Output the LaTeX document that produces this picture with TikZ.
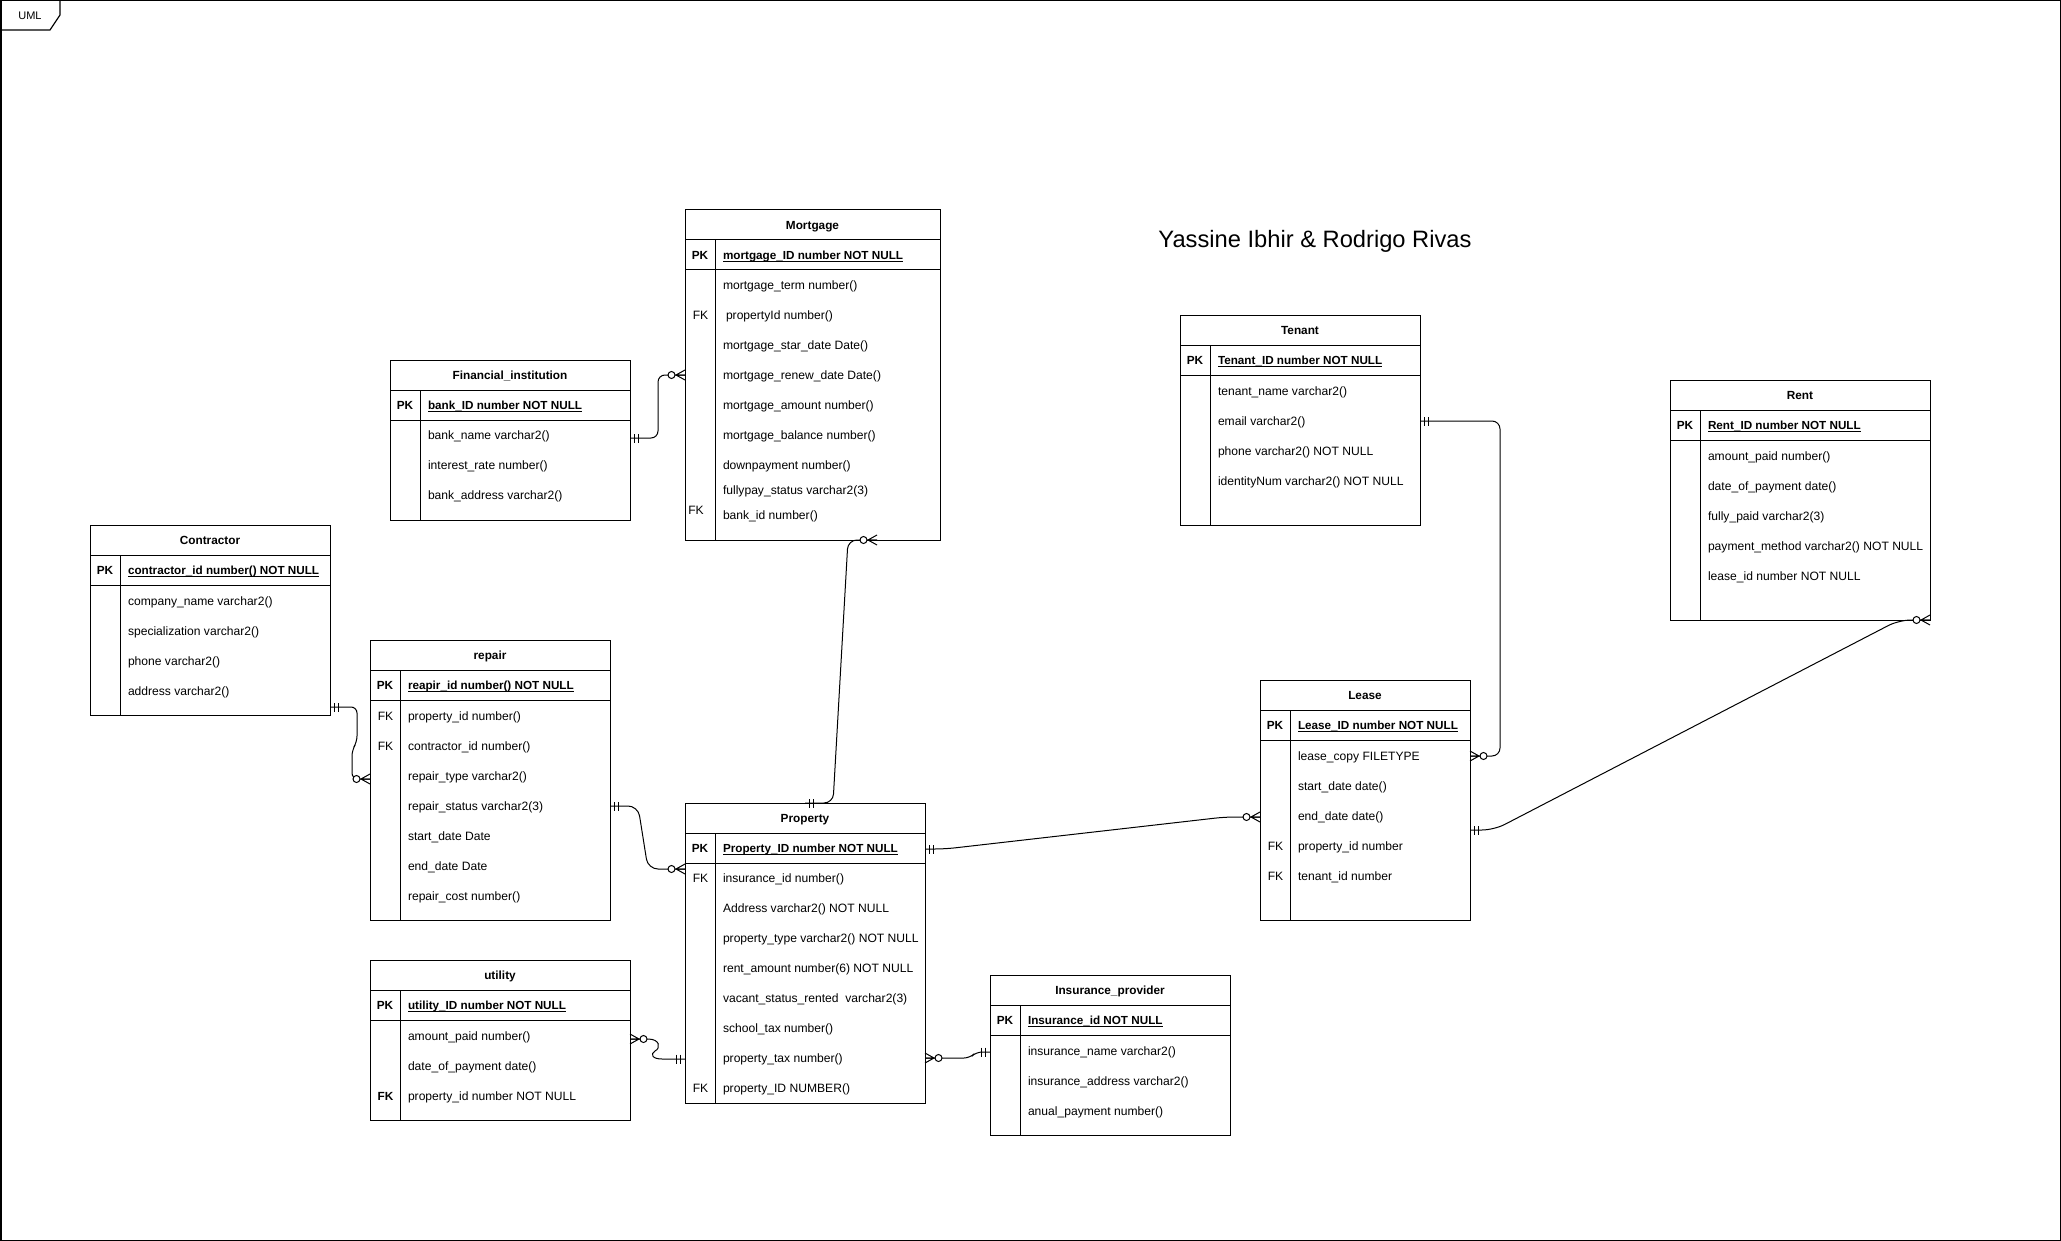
\documentclass[tikz,border=0pt]{standalone}
\usepackage{fontspec}
\setmainfont{Liberation Sans}
\usetikzlibrary{calc}

% one entity table: name, left, top, width, height, title, primary key
\newcommand\ertable[7]{%
  \node[tbl, minimum width=#4pt, minimum height=#5pt] (#1) at (#2,#3) {};
  \draw[tline] ($(#1.north west)+(0,30)$) -- ($(#1.north east)+(0,30)$);
  \draw[tline] ($(#1.north west)+(0,60)$) -- ($(#1.north east)+(0,60)$);
  \draw[tline] ($(#1.north west)+(30,30)$) -- ($(#1.south west)+(30,0)$);
  \node[ttl] (#1-title) at ($(#1.north)+(0,15)$) {#6};
  \node[pkey] (#1-pk) at ($(#1.north west)+(15,45)$) {PK};
  \node[pkid] (#1-id) at ($(#1.north west)+(38,45)$) {#7};
  \draw[uline] ([yshift=-2pt]#1-id.base west) -- ([yshift=-2pt]#1-id.base east);
}
% attribute row: table, row name, offset from top, text
\newcommand\erow[4]{%
  \node[attr] (#1-#2) at ($(#1.north west)+(38,#3)$) {#4};}
% foreign key tag: table, tag name, offset from top
\newcommand\efk[3]{%
  \node[fkey] (#1-#2) at ($(#1.north west)+(15.5,#3)$) {FK};}

\begin{document}
\begin{tikzpicture}[x=1pt,y=-1pt,
  tbl/.style={draw, line width=1pt, inner sep=0pt, outer sep=0pt, anchor=north west},
  tline/.style={line width=1pt},
  txt/.style={inner sep=0pt, outer sep=0pt, text height=8.7pt, text depth=0pt,
    font=\fontsize{12.1pt}{14pt}\selectfont},
  attr/.style={txt, anchor=west},
  ttl/.style={txt, font=\fontsize{11.8pt}{14pt}\selectfont\bfseries},
  pkey/.style={ttl},
  fkey/.style={txt},
  pkid/.style={attr, font=\fontsize{11.7pt}{14pt}\selectfont\bfseries},
  uline/.style={line width=0.9pt},
  conn/.style={line width=1pt},
  mone/.pic={\draw[conn] (-4.5,-4.5) -- (-4.5,4.5) (-8.5,-4.5) -- (-8.5,4.5);},
  zmany/.pic={\draw[conn] (0,-5) -- (-9,0) -- (0,5) (-9,0) -- (0,0);
              \draw[conn, fill=white] (-13.5,0) circle[radius=3.5pt];},
]
\useasboundingbox (0,0) rectangle (2061,1241);
\fill[white] (0,0) rectangle (2061,1241);

% outer frame with its tab
\draw[line width=1.5pt] (0.75,0.75) rectangle (2060.25,1240.25);
\draw[line width=1.2pt] (0,30) -- (50,30) -- (60,15) -- (60,0);
\node[font=\fontsize{11pt}{13pt}\selectfont] (umltag) at (30,16) {UML};

% authors
\node[font=\fontsize{23.7pt}{28pt}\selectfont] (authors) at (1315,241) {Yassine Ibhir \& Rodrigo Rivas};

% Mortgage
\ertable{mort}{685}{210}{255}{330}{Mortgage}{mortgage\_ID number NOT NULL}
\erow{mort}{1}{75}{mortgage\_term number()}
\efk{mort}{fk1}{105}
\node[attr] (mort-2) at ($(mort.north west)+(41,105)$) {propertyId number()};
\erow{mort}{3}{135}{mortgage\_star\_date Date()}
\erow{mort}{4}{165}{mortgage\_renew\_date Date()}
\erow{mort}{5}{195}{mortgage\_amount number()}
\erow{mort}{6}{225}{mortgage\_balance number()}
\erow{mort}{7}{255}{downpayment number()}
\erow{mort}{8}{280}{fullypay\_status varchar2(3)}
\erow{mort}{9}{305}{bank\_id number()}
\node[fkey] (mort-fk2) at ($(mort.north west)+(11,300)$) {FK};

% Financial_institution
\ertable{fin}{390}{360}{240}{160}{Financial\_institution}{bank\_ID number NOT NULL}
\erow{fin}{1}{75}{bank\_name varchar2()}
\erow{fin}{2}{105}{interest\_rate number()}
\erow{fin}{3}{135}{bank\_address varchar2()}

% Contractor
\ertable{con}{90}{525}{240}{190}{Contractor}{contractor\_id number() NOT NULL}
\erow{con}{1}{76}{company\_name varchar2()}
\erow{con}{2}{106}{specialization varchar2()}
\erow{con}{3}{136}{phone varchar2()}
\erow{con}{4}{166}{address varchar2()}

% repair
\ertable{rep}{370}{640}{240}{280}{repair}{reapir\_id number() NOT NULL}
\efk{rep}{fk1}{76}
\erow{rep}{1}{76}{property\_id number()}
\efk{rep}{fk2}{106}
\erow{rep}{2}{106}{contractor\_id number()}
\erow{rep}{3}{136}{repair\_type varchar2()}
\erow{rep}{4}{166}{repair\_status varchar2(3)}
\erow{rep}{5}{196}{start\_date Date}
\erow{rep}{6}{226}{end\_date Date}
\erow{rep}{7}{256}{repair\_cost number()}

% utility
\ertable{uti}{370}{960}{260}{160}{utility}{utility\_ID number NOT NULL}
\erow{uti}{1}{76}{amount\_paid number()}
\erow{uti}{2}{106}{date\_of\_payment date()}
\node[pkey] (uti-fk) at ($(uti.north west)+(15.5,136)$) {FK};
\erow{uti}{3}{136}{property\_id number NOT NULL}

% Property
\ertable{prop}{685}{803}{240}{300}{Property}{Property\_ID number NOT NULL}
\efk{prop}{fk1}{75}
\erow{prop}{1}{75}{insurance\_id number()}
\erow{prop}{2}{105}{Address varchar2() NOT NULL}
\erow{prop}{3}{135}{property\_type varchar2() NOT NULL}
\erow{prop}{4}{165}{rent\_amount number(6) NOT NULL}
\erow{prop}{5}{195}{vacant\_status\_rented\ \ varchar2(3)}
\erow{prop}{6}{225}{school\_tax number()}
\erow{prop}{7}{255}{property\_tax number()}
\efk{prop}{fk2}{285}
\erow{prop}{8}{285}{property\_ID NUMBER()}

% Insurance_provider
\ertable{ins}{990}{975}{240}{160}{Insurance\_provider}{Insurance\_id NOT NULL}
\erow{ins}{1}{76}{insurance\_name varchar2()}
\erow{ins}{2}{106}{insurance\_address varchar2()}
\erow{ins}{3}{136}{anual\_payment number()}

% Tenant
\ertable{ten}{1180}{315}{240}{210}{Tenant}{Tenant\_ID number NOT NULL}
\erow{ten}{1}{76}{tenant\_name varchar2()}
\erow{ten}{2}{106}{email varchar2()}
\erow{ten}{3}{136}{phone varchar2() NOT NULL}
\erow{ten}{4}{166}{identityNum varchar2() NOT NULL}

% Lease
\ertable{lea}{1260}{680}{210}{240}{Lease}{Lease\_ID number NOT NULL}
\erow{lea}{1}{76}{lease\_copy FILETYPE}
\erow{lea}{2}{106}{start\_date date()}
\erow{lea}{3}{136}{end\_date date()}
\efk{lea}{fk1}{166}
\erow{lea}{4}{166}{property\_id number}
\efk{lea}{fk2}{196}
\erow{lea}{5}{196}{tenant\_id number}

% Rent
\ertable{rent}{1670}{380}{260}{240}{Rent}{Rent\_ID number NOT NULL}
\erow{rent}{1}{76}{amount\_paid number()}
\erow{rent}{2}{106}{date\_of\_payment date()}
\erow{rent}{3}{136}{fully\_paid varchar2(3)}
\erow{rent}{4}{166}{payment\_method varchar2() NOT NULL}
\erow{rent}{5}{196}{lease\_id number NOT NULL}

% relationships
% Financial_institution -- Mortgage
\draw[conn, rounded corners=7] (fin.east |- 0,438) -- (658,438) -- (658,375) -- (mort.west |- 0,375);
\pic[rotate=180] at (fin.east |- 0,438) {mone};
\pic at (mort.west |- 0,375) {zmany};

% Mortgage -- Property
\draw[conn, rounded corners=9] (prop.north) -- (833,803) -- (848,540) -- (877,0 |- mort.south);
\pic[rotate=180] at (prop.north) {mone};
\pic at (877,0 |- mort.south) {zmany};

% Contractor -- repair
\draw[conn, rounded corners=6] (con.east |- 0,707) -- (357,707) -- (357,742) -- (352,750) -- (352,779) -- (rep.west |- 0,779);
\pic[rotate=180] at (con.east |- 0,707) {mone};
\pic at (rep.west |- 0,779) {zmany};

% repair -- Property
\draw[conn, rounded corners=10] (rep.east |- 0,806) -- (638,806) -- (648,869) -- (prop.west |- 0,869);
\pic[rotate=180] at (rep.east |- 0,806) {mone};
\pic at (prop.west |- 0,869) {zmany};

% utility -- Property
\draw[conn] (uti.east |- 0,1039) -- (648,1039) .. controls (660,1039) and (661,1048) .. (655,1051)
  .. controls (650,1054) and (652,1059) .. (662,1059) -- (prop.west |- 0,1059);
\pic[rotate=180] at (uti.east |- 0,1039) {zmany};
\pic at (prop.west |- 0,1059) {mone};

% Property -- Insurance_provider
\draw[conn, rounded corners=6] (prop.east |- 0,1058) -- (970,1058) -- (976,1052) -- (ins.west |- 0,1052);
\pic[rotate=180] at (prop.east |- 0,1058) {zmany};
\pic at (ins.west |- 0,1052) {mone};

% Property -- Lease
\draw[conn, rounded corners=10] (prop.east |- 0,849) -- (945,849) -- (1225,817) -- (lea.west |- 0,817);
\pic[rotate=180] at (prop.east |- 0,849) {mone};
\pic at (lea.west |- 0,817) {zmany};

% Tenant -- Lease
\draw[conn, rounded corners=8] (ten.east |- 0,421) -- (1500,421) -- (1500,756) -- (lea.east |- 0,756);
\pic[rotate=180] at (ten.east |- 0,421) {mone};
\pic[rotate=180] at (lea.east |- 0,756) {zmany};

% Lease -- Rent
\draw[conn, rounded corners=12] (lea.east |- 0,830) -- (1494,830) -- (1899,620) -- (rent.south east);
\pic[rotate=180] at (lea.east |- 0,830) {mone};
\pic at (rent.south east) {zmany};
\end{tikzpicture}
\end{document}
